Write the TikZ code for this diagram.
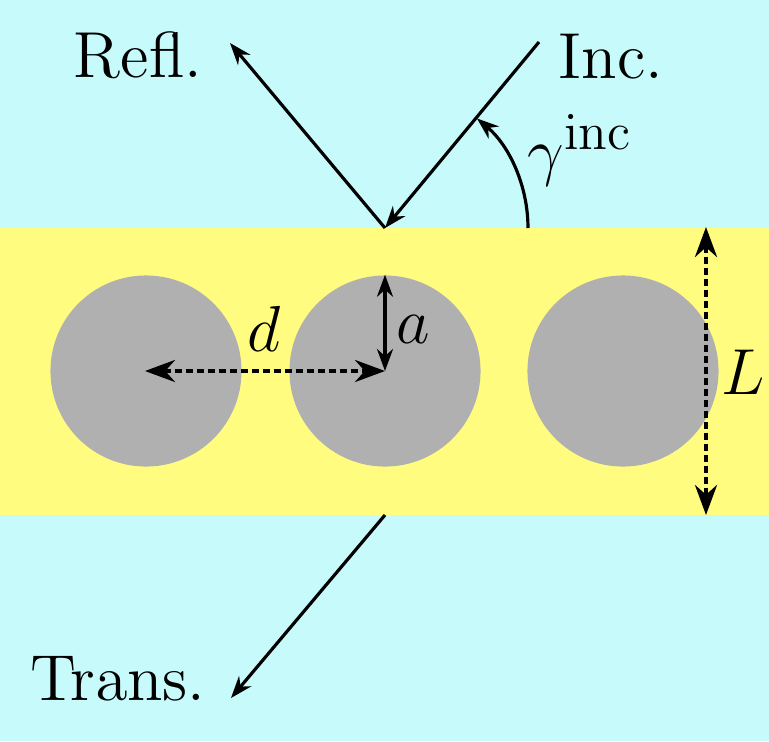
\RequirePackage{fix-cm}
\documentclass[tikz,border=0pt]{standalone}
\usetikzlibrary{arrows.meta}
\DeclareMathSizes{18.5}{18.5}{15}{11}
\font\lblfont=cmr12 at 18.5pt
\definecolor{bgcyan}{RGB}{199,250,251}
\definecolor{band}{RGB}{255,252,128}
\definecolor{cyl}{RGB}{176,176,176}
\tikzset{
  txt/.style={inner sep=0pt, font=\lblfont},
  lbl/.style={inner sep=0pt, font=\fontsize{18.5}{22}\selectfont},
  ray/.style={line width=0.9pt, -{Stealth[length=0.22cm,width=0.16cm]}},
  dimsolid/.style={line width=0.9pt, {Stealth[length=0.22cm,width=0.16cm]}-{Stealth[length=0.22cm,width=0.16cm]}},
  dimdash/.style={line width=1.2pt, dash pattern=on 0.07cm off 0.04cm, {Stealth[length=0.3cm,width=0.22cm]}-{Stealth[length=0.3cm,width=0.22cm]}},
  cylinder/.style={circle, fill=cyl, minimum size=1.91cm, inner sep=0pt}
}
\begin{document}
\begin{tikzpicture}[x=0.01cm,y=0.01cm]
\useasboundingbox (0,0) rectangle (769,741);
\fill[bgcyan] (0,0) rectangle (769,741);
\fill[band] (0,226) rectangle (769,513);
\node[cylinder] (c1) at (146,370) {};
\node[cylinder] (c2) at (385,370) {};
\node[cylinder] (c3) at (623,370) {};
\coordinate (P) at (385,513);
\coordinate (Q) at (385,226);
\coordinate (incS) at (539,699);
\coordinate (reflE) at (230,698);
\coordinate (transE) at (231,43);
\coordinate (arcS) at (528,513);
\coordinate (Ltop) at (706,514);
\coordinate (Lbot) at (706,226);
\coordinate (dL) at (145,370);
\draw[ray] (incS) -- (P);
\draw[ray] (P) -- (reflE);
\draw[ray] (Q) -- (transE);
\draw[ray] (arcS) arc[start angle=0, end angle=50, radius=1.43cm];
\draw[dimdash] (dL) -- (c2.center);
\draw[dimsolid] (c2.center) -- (c2.north);
\draw[dimdash] (Ltop) -- (Lbot);
\node[txt, anchor=base] (refl) at (138,664) {Refl.};
\node[txt, anchor=base] (inc) at (611,663) {Inc.};
\node[txt, anchor=base] (trans) at (118,41) {Trans.};
\node[lbl, anchor=base west] (gam) at (527,568) {$\gamma^{\mathrm{inc}}$};
\node[lbl] (dlab) at (264,412) {$d$};
\node[lbl] (alab) at (413,412) {$a$};
\node[lbl] (Llab) at (743,369) {$L$};
\end{tikzpicture}
\end{document}
